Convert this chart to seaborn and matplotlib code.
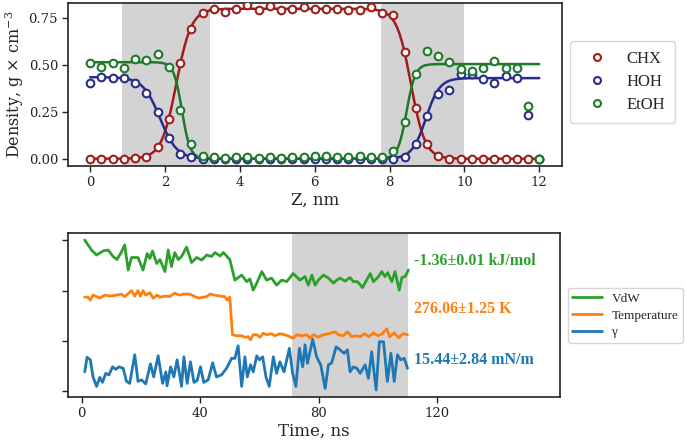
import numpy as np
import pandas as pd
import seaborn as sns
import matplotlib.pyplot as plt
from matplotlib.lines import Line2D

# ---- top panel: density profiles ----
z = [0.0, 0.3, 0.6, 0.9, 1.2, 1.5, 1.8, 2.1, 2.4, 2.7, 3.0, 3.3, 3.6, 3.9,
     4.2, 4.5, 4.8, 5.1, 5.4, 5.7, 6.0, 6.3, 6.6, 6.9, 7.2, 7.5, 7.8, 8.1,
     8.4, 8.7, 9.0, 9.3, 9.6, 9.9, 10.2, 10.5, 10.8, 11.1, 11.4, 11.7, 12.0]
chx = [0.0, 0.0, 0.0, 0.0, 0.003, 0.01, 0.065, 0.21, 0.51, 0.69, 0.777, 0.798,
       0.785, 0.80, 0.818, 0.795, 0.815, 0.795, 0.80, 0.81, 0.80, 0.80, 0.80,
       0.795, 0.795, 0.81, 0.78, 0.768, 0.57, 0.271, 0.077, 0.015, 0.0, 0.0,
       0.0, 0.0, 0.0, 0.0, 0.0, 0.0, 0.0]
hoh = [0.403, 0.436, 0.43, 0.43, 0.403, 0.35, 0.247, 0.113, 0.027, 0.01, 0.0,
       0.0, 0.0, 0.0, 0.0, 0.0, 0.0, 0.0, 0.0, 0.0, 0.0, 0.0, 0.0, 0.0, 0.0,
       0.0, 0.0, 0.0, 0.01, 0.08, 0.23, 0.343, 0.368, 0.45, 0.45, 0.423, 0.403,
       0.44, 0.43, 0.233, 0.0]
etoh = [0.508, 0.49, 0.508, 0.485, 0.53, 0.525, 0.558, 0.49, 0.26, 0.08, 0.015,
        0.01, 0.005, 0.01, 0.008, 0.005, 0.008, 0.005, 0.008, 0.01, 0.012,
        0.015, 0.008, 0.008, 0.012, 0.008, 0.01, 0.041, 0.194, 0.45, 0.576,
        0.547, 0.516, 0.48, 0.468, 0.486, 0.52, 0.485, 0.485, 0.282, 0.0]

# tanh fit parameters: plateau, left centre, left width, right centre, right width
chx_fit = [0.80, 2.30, 0.40, 8.57, 0.38]
# plateau left, centre, width, plateau right, centre, width
hoh_fit = [0.435, 1.86, 0.455, 0.43, 8.97, 0.37]
etoh_fit = [0.515, 2.45, 0.22, 0.505, 8.455, 0.233]

slabs_z = [(0.86, 3.2), (7.78, 9.98)]

# ---- bottom panel: time series (normalised, offset) ----
t_vdw = [1, 3.3, 5.0, 7.2, 8.9, 10.6, 11.9, 13.4, 14.5, 15.7, 16.8, 19.0, 20.7,
         22.1, 23.0, 23.9, 25.3, 26.4, 28.1, 29.2, 30.3, 31.4, 32.6, 33.7,
         35.4, 37.1, 38.8, 40.5, 42.2, 43.8, 45.0, 46.7, 47.8, 50.0, 51.7,
         54.0, 55.7, 56.8, 57.9, 59.1, 60.8, 62.4, 64.1, 65.8, 67.5, 69.2,
         71.4, 73.7, 75.4, 76.5, 77.7, 78.8, 79.9, 81.6, 83.3, 85.0, 86.1,
         87.2, 88.9, 90.6, 91.7, 93.1, 94.8, 95.9, 97.4, 98.5, 100.2, 101.3,
         102.4, 103.3, 104.7, 105.8, 107.2, 108.1, 109.2, 110.3]
vdw = [3.01, 2.81, 2.71, 2.79, 2.81, 2.68, 2.62, 2.77, 2.91, 2.41, 2.66, 2.66,
       2.41, 2.74, 2.64, 2.79, 2.54, 2.62, 2.38, 2.81, 2.48, 2.76, 2.62, 2.68,
       2.87, 2.56, 2.66, 2.61, 2.71, 2.68, 2.76, 2.69, 2.76, 2.62, 2.21, 2.31,
       2.18, 2.23, 2.01, 2.15, 2.38, 2.21, 2.25, 2.11, 2.21, 2.18, 2.34, 2.21,
       2.28, 2.11, 2.31, 2.11, 2.21, 2.31, 2.25, 2.15, 2.21, 2.25, 2.19, 2.26,
       2.18, 2.18, 2.06, 2.18, 2.34, 2.18, 2.28, 2.38, 2.28, 2.36, 2.18, 2.38,
       2.01, 2.26, 2.28, 2.41]

t_temp = [1, 2.1, 2.9, 3.8, 5.0, 6.1, 7.8, 9.5, 11.7, 13.4, 14.5, 16.8, 17.9,
          19.0, 19.8, 20.7, 21.6, 23.0, 24.1, 25.5, 26.4, 28.1, 29.7, 31.4,
          32.9, 34.5, 36.5, 38.2, 39.7, 41.0, 42.2, 43.3, 45.0, 46.7, 48.3,
          49.1, 50.0, 50.9, 52.3, 54.0, 55.1, 56.2, 57.0, 57.9, 59.1, 60.2,
          61.3, 62.4, 64.1, 65.2, 66.9, 68.6, 70.3, 71.4, 72.6, 74.3, 76.0,
          77.1, 78.2, 79.9, 81.6, 83.3, 85.5, 86.7, 88.3, 89.7, 91.2, 92.9,
          94.0, 95.5, 97.0, 98.5, 100.0, 101.5, 103.0, 104.0, 105.5, 107.0,
          108.5, 110.0]
temp = [1.87, 1.87, 1.81, 1.91, 1.88, 1.85, 1.91, 1.89, 1.91, 1.93, 1.88, 2.00,
        1.89, 2.00, 1.89, 2.00, 1.91, 1.96, 1.85, 1.91, 1.87, 1.89, 1.88, 1.95,
        1.91, 1.93, 1.93, 1.88, 1.85, 1.87, 1.88, 1.93, 1.91, 1.89, 1.88, 1.81,
        1.87, 1.12, 1.10, 1.10, 1.07, 1.08, 1.02, 1.12, 1.12, 1.07, 1.15, 1.12,
        1.14, 1.10, 1.14, 1.12, 1.08, 1.05, 1.12, 1.10, 1.12, 1.05, 1.12, 1.07,
        1.12, 1.14, 1.18, 1.12, 1.10, 1.18, 1.08, 1.10, 1.08, 1.14, 1.08, 1.16,
        1.10, 1.14, 1.24, 1.08, 1.16, 1.06, 1.14, 1.12]

t_gamma = [1, 1.8, 2.9, 3.8, 5.0, 6.1, 7.0, 8.1, 9.2, 10.4, 11.5, 12.6, 14.0,
           15.1, 16.2, 17.9, 19.0, 20.2, 21.6, 23.2, 24.3, 25.8, 27.3, 28.4,
           28.8, 30.0, 31.1, 32.2, 33.7, 34.5, 35.6, 36.7, 37.9, 39.0, 40.1,
           41.2, 42.7, 44.2, 45.5, 47.2, 48.9, 50.6, 51.7, 52.8, 54.0, 55.1,
           55.9, 57.0, 57.9, 59.1, 60.0, 61.1, 62.2, 63.3, 64.7, 65.8, 66.9,
           68.3, 70.1, 71.2, 72.3, 73.5, 74.6, 75.4, 76.2, 78.0, 79.3, 80.7,
           82.2, 83.3, 84.4, 85.9, 87.2, 88.6, 89.7, 90.6, 91.7, 92.9, 94.0,
           95.7, 96.8, 97.9, 99.4, 100.5, 101.9, 103.2, 104.4, 105.5, 106.6,
           107.7, 108.9, 110.0]
gamma = [0.38, 0.67, 0.62, 0.28, 0.09, 0.27, 0.17, 0.35, 0.32, 0.48, 0.43, 0.48,
         0.45, 0.19, 0.15, 0.72, 0.19, 0.22, 0.14, 0.54, 0.28, 0.70, 0.15, 0.38,
         0.10, 0.48, 0.28, 0.62, 0.09, 0.68, 0.15, 0.58, 0.17, 0.21, 0.48, 0.17,
         0.22, 0.56, 0.28, 0.32, 0.45, 0.65, 0.65, 0.90, 0.09, 0.68, 0.28, 0.52,
         0.38, 0.70, 0.62, 0.68, 0.28, 0.09, 0.68, 0.35, 0.58, 0.38, 0.85, 0.35,
         0.09, 0.85, 0.48, 0.92, 0.55, 1.03, 0.68, 0.52, 0.05, 0.52, 0.56, 0.88,
         0.82, 0.75, 0.82, 0.38, 0.48, 0.45, 0.35, 0.52, 0.25, 0.78, 0.02, 0.98,
         0.98, 0.19, 0.75, 0.19, 0.72, 0.62, 0.65, 0.45]

labels_txt = ['-1.36±0.01 kJ/mol', '276.06±1.25 K', '15.44±2.84 mN/m']
label_y = [2.59, 1.63, 0.62]
slab_t = (71.0, 110.2)

sns.set_theme(style='ticks')
plt.rcParams['font.family'] = ['DejaVu Serif']
plt.rcParams['mathtext.fontset'] = 'dejavuserif'

fig = plt.figure(figsize=(6.85, 4.48), dpi=100)
ax1 = fig.add_axes([0.099, 0.629, 0.721, 0.364])
ax2 = fig.add_axes([0.099, 0.114, 0.719, 0.366])

c_chx, c_hoh, c_etoh = '#a11d1d', '#2a2c8c', '#1c7a2a'

def step_down(x, a, c, w):
    return a * 0.5 * (1 - np.tanh((x - c) / w))

def step_up(x, a, c, w):
    return a * 0.5 * (1 + np.tanh((x - c) / w))

zz = np.linspace(0, 12, 400)
fits = pd.DataFrame({
    'z': zz,
    'CHX': chx_fit[0] * 0.5 * (np.tanh((zz - chx_fit[1]) / chx_fit[2])
                               - np.tanh((zz - chx_fit[3]) / chx_fit[4])),
    'HOH': step_down(zz, hoh_fit[0], hoh_fit[1], hoh_fit[2])
           + step_up(zz, hoh_fit[3], hoh_fit[4], hoh_fit[5]),
    'EtOH': step_down(zz, etoh_fit[0], etoh_fit[1], etoh_fit[2])
            + step_up(zz, etoh_fit[3], etoh_fit[4], etoh_fit[5]),
})
pts = pd.DataFrame({'z': z, 'CHX': chx, 'HOH': hoh, 'EtOH': etoh})

for lo, hi in slabs_z:
    ax1.axvspan(lo, hi, color='#d3d3d3', lw=0, zorder=0)

handles = []
for name, col in [('CHX', c_chx), ('HOH', c_hoh), ('EtOH', c_etoh)]:
    sns.lineplot(data=fits, x='z', y=name, ax=ax1, color=col, lw=1.8,
                 sort=False, estimator=None, legend=False, zorder=2)
for name, col in [('CHX', c_chx), ('HOH', c_hoh), ('EtOH', c_etoh)]:
    sns.lineplot(data=pts, x='z', y=name, ax=ax1, color=col, linestyle='',
                 marker='o', markersize=5.5, markerfacecolor='white',
                 markeredgecolor=col, markeredgewidth=1.5, sort=False,
                 estimator=None, legend=False, zorder=3)
    handles.append(Line2D([], [], linestyle='', marker='o', markersize=5,
                          markerfacecolor='white', markeredgecolor=col,
                          markeredgewidth=1.5, label=name))

ax1.set_xlim(-0.6, 12.6)
ax1.set_ylim(-0.04, 0.83)
ax1.set_xticks([0, 2, 4, 6, 8, 10, 12])
ax1.set_yticks([0, 0.25, 0.5, 0.75])
ax1.set_yticklabels(['0.00', '0.25', '0.50', '0.75'])
ax1.set_xlabel('Z, nm', fontsize=12, labelpad=2)
ax1.set_ylabel('Density, g × cm$^{-3}$', fontsize=11.5, labelpad=2)
fig.legend(handles=handles, loc='center left', bbox_to_anchor=(0.832, 0.817),
           borderaxespad=0, prop={'family': 'Liberation Serif', 'size': 12},
           labelspacing=0.4, handletextpad=0.8, borderpad=0.6, frameon=True)

# bottom panel
ax2.axvspan(slab_t[0], slab_t[1], color='#d3d3d3', lw=0, zorder=0)
ts = [(t_vdw, vdw, 'VdW', 'tab:green'),
      (t_temp, temp, 'Temperature', 'tab:orange'),
      (t_gamma, gamma, 'γ', 'tab:blue')]
for tt, vv, name, col in ts:
    sns.lineplot(x=tt, y=vv, ax=ax2, color=col, lw=2.0, label=name,
                 sort=False, estimator=None)
for txt, yy, (_, _, _, col) in zip(labels_txt, label_y, ts):
    ax2.text(112.2, yy, txt, color=col, fontsize=11.5, fontweight='bold',
             family='Liberation Serif', va='center', ha='left')

ax2.set_xlim(-4.7, 161.6)
ax2.set_ylim(-0.12, 3.15)
ax2.set_xticks([0, 40, 80, 120])
ax2.set_yticks([0, 1, 2, 3])
ax2.set_yticklabels([])
ax2.set_xlabel('Time, ns', fontsize=12, labelpad=2)
ax2.set_ylabel('')
ax2.get_legend().remove()
h2, l2 = ax2.get_legend_handles_labels()
fig.legend(h2, l2, loc='center left', bbox_to_anchor=(0.829, 0.296),
           borderaxespad=0, prop={'family': 'Liberation Serif', 'size': 9.5},
           labelspacing=0.35, handlelength=2.2, handletextpad=0.75,
           borderpad=0.35, frameon=True)

for ax in (ax1, ax2):
    ax.tick_params(labelsize=9.5, direction='out', length=4, width=1,
                   colors='#222222', pad=3)
    for sp in ax.spines.values():
        sp.set_visible(True)
        sp.set_linewidth(1.2)
        sp.set_color('#222222')

fig.savefig('out.png', dpi=100)
